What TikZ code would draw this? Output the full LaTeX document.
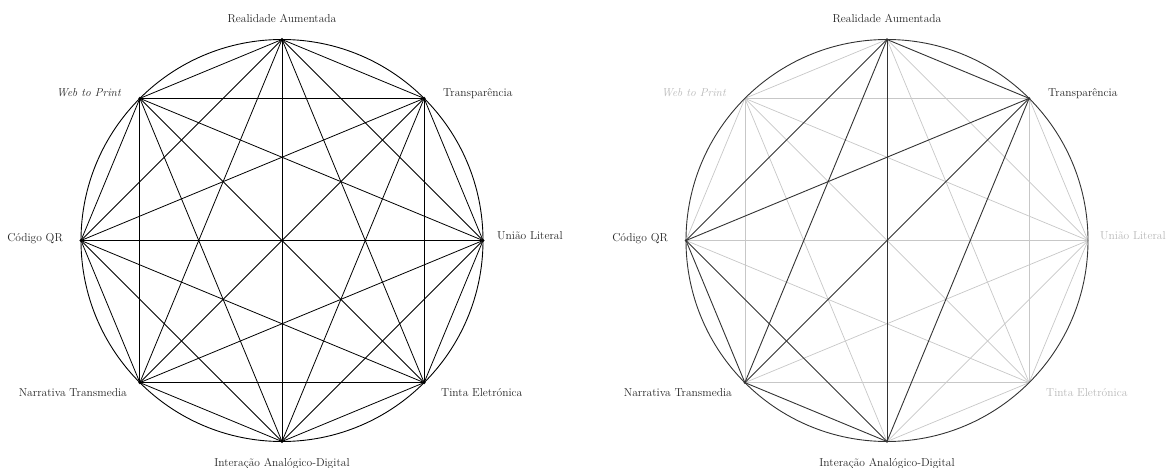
\documentclass[tikz,border=0pt]{standalone}
\definecolor{inkline}{gray}{0.0}
\definecolor{darkline}{gray}{0.2}
\definecolor{lightline}{gray}{0.78}
\definecolor{darktext}{gray}{0.15}
\definecolor{lighttext}{gray}{0.72}
\begin{document}
\begin{tikzpicture}[x=1pt,y=-1pt,
  lbl/.style={inner sep=0pt, font=\fontsize{11.5}{14}\selectfont, text=darktext},
  ltlbl/.style={lbl, text=lighttext},
  ring/.style={line width=0.9pt, draw=inkline},
  edge/.style={line width=0.8pt, draw=inkline},
  dkedge/.style={line width=0.9pt, draw=darkline},
  ltedge/.style={line width=0.7pt, draw=lightline},
  vdot/.style={fill=inkline},
  dkdot/.style={fill=darkline}]
\useasboundingbox (0,0) rectangle (1168,468);

% ---------- left figure ----------
\begin{scope}[shift={(282,240.5)}]
  \foreach \n/\a in {1/90,2/45,3/0,4/-45,5/-90,6/-135,7/180,8/135}
    \coordinate (L\n) at ({201*cos(\a)},{-201*sin(\a)});
  \draw[ring] (0,0) circle[radius=201pt];
  \foreach \i in {1,...,7}{
    \pgfmathtruncatemacro\s{\i+1}
    \foreach \j in {\s,...,8}
      \draw[edge] (L\i) -- (L\j);
  }
  \foreach \n in {1,...,8} \fill[vdot] (L\n) circle[radius=1.7pt];
  \node[lbl, anchor=base] (lRA) at (0,-217.5) {Realidade Aumentada};
  \node[lbl, anchor=base west] (lTR) at (161,-143.5) {Transparência};
  \node[lbl, anchor=base west] (lUL) at (215,-0.5) {União Literal};
  \node[lbl, anchor=base west] (lTE) at (159,155.5) {Tinta Eletrónica};
  \node[lbl, anchor=base] (lIA) at (0,225.5) {Interação Analógico-Digital};
  \node[lbl, anchor=base east] (lNT) at (-155,155.5) {Narrativa Transmedia};
  \node[lbl, anchor=base east] (lCQ) at (-219,0.5) {Código QR};
  \node[lbl, anchor=base east] (lWP) at (-161,-143.5) {\itshape Web to Print};
\end{scope}

% ---------- right figure ----------
\begin{scope}[shift={(887,240.5)}]
  \foreach \n/\a in {1/90,2/45,3/0,4/-45,5/-90,6/-135,7/180,8/135}
    \coordinate (R\n) at ({201*cos(\a)},{-201*sin(\a)});
  \foreach \i/\j in {1/3,1/4,1/8,2/3,2/4,2/8,3/4,3/5,3/6,3/7,3/8,4/5,4/6,4/7,4/8,5/8,6/8,7/8}
    \draw[ltedge] (R\i) -- (R\j);
  \draw[ring, draw=darkline] (0,0) circle[radius=201pt];
  \foreach \i/\j in {1/2,1/5,1/6,1/7,2/5,2/6,2/7,5/6,5/7,6/7}
    \draw[dkedge] (R\i) -- (R\j);
  \foreach \n in {1,2,5,6,7} \fill[dkdot] (R\n) circle[radius=1.4pt];
  \node[lbl, anchor=base] (rRA) at (0,-217.5) {Realidade Aumentada};
  \node[lbl, anchor=base west] (rTR) at (161,-143.5) {Transparência};
  \node[ltlbl, anchor=base west] (rUL) at (213,-0.5) {União Literal};
  \node[ltlbl, anchor=base west] (rTE) at (159,155.5) {Tinta Eletrónica};
  \node[lbl, anchor=base] (rIA) at (0,225.5) {Interação Analógico-Digital};
  \node[lbl, anchor=base east] (rNT) at (-155,155.5) {Narrativa Transmedia};
  \node[lbl, anchor=base east] (rCQ) at (-219,0.5) {Código QR};
  \node[ltlbl, anchor=base east] (rWP) at (-161,-143.5) {\itshape Web to Print};
\end{scope}
\end{tikzpicture}
\end{document}
